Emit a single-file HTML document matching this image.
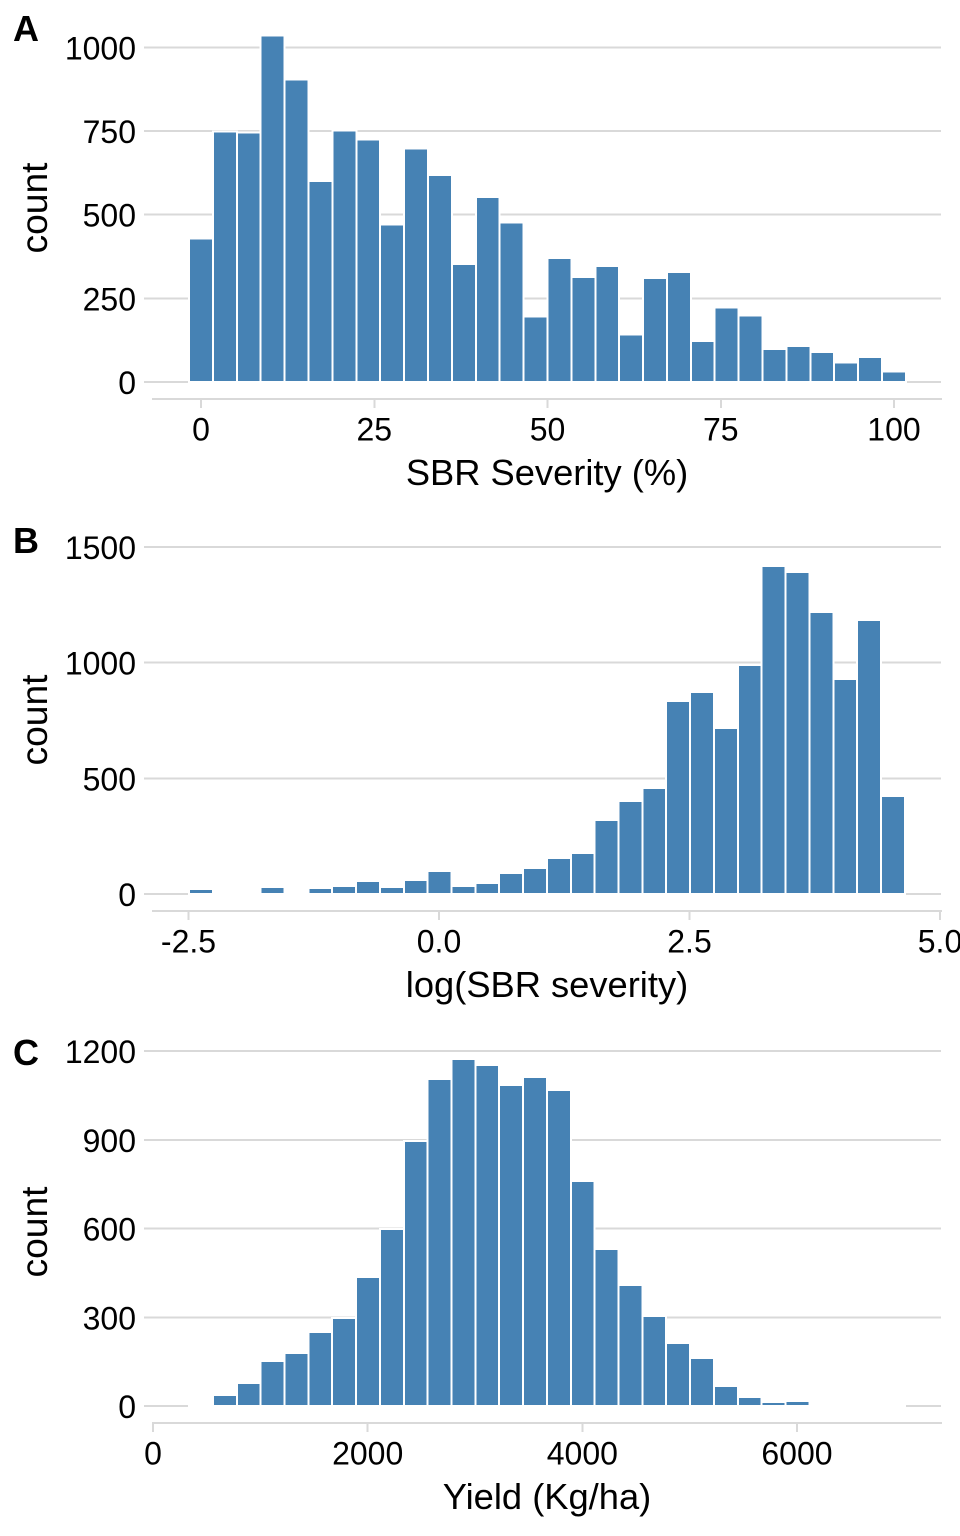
<!DOCTYPE html>
<html lang="en">
<head>
<meta charset="utf-8">
<title>SBR severity and yield histograms</title>
<style>
  html, body { margin: 0; padding: 0; background: #fff; }
  body { width: 960px; height: 1536px; overflow: hidden; }
  svg { display: block; font-family: "Liberation Sans", Arial, sans-serif; fill: #000; }
  .tick { font-size: 32px; }
  .title { font-size: 36.3px; }
  .ytitle { font-size: 37.2px; }
  .tag { font-size: 36px; font-weight: bold; }
</style>
</head>
<body>
<svg id="chart" xmlns="http://www.w3.org/2000/svg" width="960" height="1536" viewBox="0 0 960 1536">
  <g id="panel-a"></g>
  <g id="panel-b"></g>
  <g id="panel-c"></g>
  <text class="tag" x="13" y="41">A</text>
  <text class="tag" x="13" y="553">B</text>
  <text class="tag" x="13" y="1065">C</text>
  <text class="title" x="547" y="485" text-anchor="middle">SBR Severity (%)</text>
  <text class="title" x="547" y="997" text-anchor="middle">log(SBR severity)</text>
  <text class="title" x="547" y="1509" text-anchor="middle">Yield (Kg/ha)</text>
  <text class="ytitle" transform="translate(47,208) rotate(-90)" text-anchor="middle">count</text>
  <text class="ytitle" transform="translate(47,720) rotate(-90)" text-anchor="middle">count</text>
  <text class="ytitle" transform="translate(47,1232) rotate(-90)" text-anchor="middle">count</text>
</svg>
<script>
// Panel A: SBR severity (%)
const countsA = [429, 749, 746, 1036, 904, 600, 752, 725, 471, 698, 618, 352, 552, 477, 196, 370, 313, 346, 142, 310, 328, 122, 223, 199, 98, 107, 89, 59, 74, 32];
const binStartA = 0;
const binWidthA = 3.448;
const yTicksA = ["0", "250", "500", "750", "1000"];
const xTicksA = ["0", "25", "50", "75", "100"];

// Panel B: log(SBR severity)
const countsB = [22, 0, 0, 30, 0, 26, 35, 56, 30, 61, 99, 35, 48, 91, 112, 156, 177, 320, 402, 458, 834, 873, 718, 990, 1418, 1392, 1219, 929, 1184, 424];
const binStartB = -2.375;
const binWidthB = 0.2381;
const yTicksB = ["0", "500", "1000", "1500"];
const xTicksB = ["-2.5", "0.0", "2.5", "5.0"];

// Panel C: Yield (Kg/ha)
const countsC = [0, 37, 78, 152, 179, 250, 297, 436, 598, 896, 1105, 1173, 1153, 1085, 1112, 1068, 761, 531, 409, 304, 213, 162, 68, 30, 14, 17, 0, 0, 0, 0];
const binStartC = 447;
const binWidthC = 222.3;
const yTicksC = ["0", "300", "600", "900", "1200"];
const xTicksC = ["0", "2000", "4000", "6000"];

const SVG_NS = "http://www.w3.org/2000/svg";
const GRID_COLOR = "#d9d9d9";
const BAR_COLOR = "#4682b4";

function makeEl(tag, attrs, parent) {
  const el = document.createElementNS(SVG_NS, tag);
  for (const key in attrs) el.setAttribute(key, attrs[key]);
  parent.appendChild(el);
  return el;
}

function drawPanel(groupId, counts, binStart, binWidth, yTicks, xTicks, yAxis, xAxis, axisY) {
  const group = document.getElementById(groupId);
  const yScale = function (v) { return yAxis.zero - v * yAxis.pxPerUnit; };
  const xScale = function (v) { return xAxis.zero + v * xAxis.pxPerUnit; };

  yTicks.forEach(function (label) {
    const y = yScale(Number(label));
    const grid = makeEl("line", { x1: 144, x2: 941, y1: y, y2: y, stroke: GRID_COLOR, "stroke-width": 2, "shape-rendering": "crispEdges" }, group);
    
    
    const text = makeEl("text", { class: "tick", x: 136, y: y + 12, "text-anchor": "end" }, group);
    
    
    text.textContent = label;
  });

  counts.forEach(function (count, i) {
    const center = binStart + i * binWidth;
    const left = xScale(center - binWidth / 2);
    const right = xScale(center + binWidth / 2);
    const top = yScale(count);
    const bar = makeEl("rect", {
      x: left,
      y: top,
      width: right - left,
      height: Math.max(yScale(0) - top, 0.01),
      fill: BAR_COLOR,
      stroke: "#ffffff",
      "stroke-width": 2,
      "shape-rendering": "crispEdges"
    }, group);
    
    
  });

  const axis = makeEl("line", { x1: 152, x2: 942, y1: axisY, y2: axisY, stroke: GRID_COLOR, "stroke-width": 2, "shape-rendering": "crispEdges" }, group);
  
  

  xTicks.forEach(function (label) {
    const x = xScale(Number(label));
    const tick = makeEl("line", { x1: x, x2: x, y1: axisY, y2: axisY + 9, stroke: GRID_COLOR, "stroke-width": 2, "shape-rendering": "crispEdges" }, group);
    
    
    const text = makeEl("text", { class: "tick", x: x, y: axisY + 41.5, "text-anchor": "middle" }, group);
    
    
    text.textContent = label;
  });
}

drawPanel("panel-a", countsA, binStartA, binWidthA, yTicksA, xTicksA,
  { zero: 382, pxPerUnit: 0.3347 }, { zero: 201, pxPerUnit: 6.93 }, 399);
drawPanel("panel-b", countsB, binStartB, binWidthB, yTicksB, xTicksB,
  { zero: 894, pxPerUnit: 0.2313 }, { zero: 439, pxPerUnit: 100.2 }, 911);
drawPanel("panel-c", countsC, binStartC, binWidthC, yTicksC, xTicksC,
  { zero: 1406, pxPerUnit: 0.2958 }, { zero: 153, pxPerUnit: 0.10733 }, 1423);
</script>
</body>
</html>
